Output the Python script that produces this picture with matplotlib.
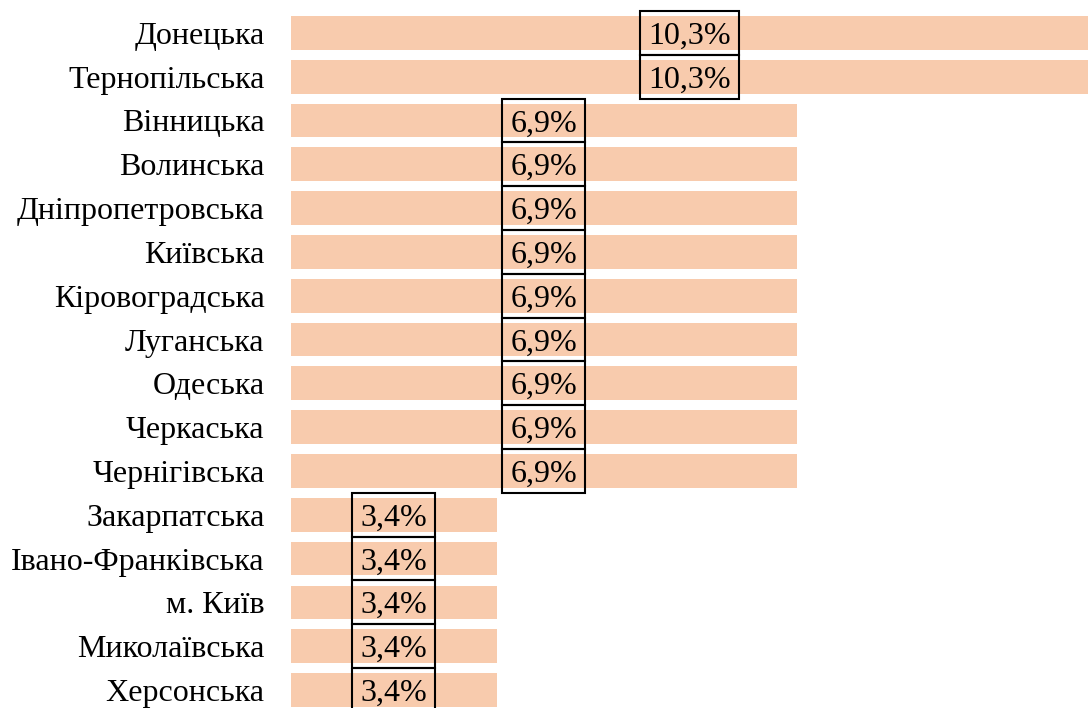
import matplotlib.pyplot as plt
from matplotlib.patches import Rectangle

# Області та частки (%)
regions = ['Донецька', 'Тернопільська', 'Вінницька', 'Волинська',
           'Дніпропетровська', 'Київська', 'Кіровоградська', 'Луганська',
           'Одеська', 'Черкаська', 'Чернігівська', 'Закарпатська',
           'Івано-Франківська', 'м. Київ', 'Миколаївська', 'Херсонська']
shares = [10.3, 10.3, 6.9, 6.9, 6.9, 6.9, 6.9, 6.9, 6.9, 6.9, 6.9,
          3.4, 3.4, 3.4, 3.4, 3.4]
labels = ['10,3%', '10,3%'] + ['6,9%'] * 9 + ['3,4%'] * 5

x_start = 1.0

plt.rcParams['font.family'] = ['Liberation Serif', 'DejaVu Serif']

fig = plt.figure(figsize=(10.88, 7.08), dpi=100)
ax = fig.add_axes([291 / 1088, -0.0055, 1 - 291 / 1088, 0.99])

y = list(range(len(regions)))
ax.barh(y, [s - x_start for s in shares], left=x_start, height=0.77,
        color='#F8CBAD')

ax.set_xlim(x_start, 10.3)
ax.set_ylim(len(regions) - 0.5, -0.5)
ax.set_yticks(y)
ax.set_yticklabels(regions, fontsize=23)
ax.tick_params(axis='y', length=0, pad=19)
ax.set_xticks([])
for sp in ax.spines.values():
    sp.set_visible(False)

# підписи значень у рамках посередині смуг
texts = []
for yi, s, lab in zip(y, shares, labels):
    t = ax.text((x_start + s) / 2, yi + 0.25, lab, ha='center',
                va='baseline', fontsize=23, color='black', zorder=4)
    texts.append((t, yi))

fig.canvas.draw()
renderer = fig.canvas.get_renderer()
inv = ax.transData.inverted()
pad_px = 8
for t, yi in texts:
    bb = t.get_window_extent(renderer)
    x0 = inv.transform((bb.x0 - pad_px, 0))[0]
    x1 = inv.transform((bb.x1 + pad_px, 0))[0]
    ax.add_patch(Rectangle((x0, yi - 0.5), x1 - x0, 1.0, fill=False,
                           edgecolor='black', linewidth=1.5, zorder=3,
                           clip_on=False))

fig.savefig('out.png', dpi=100)
